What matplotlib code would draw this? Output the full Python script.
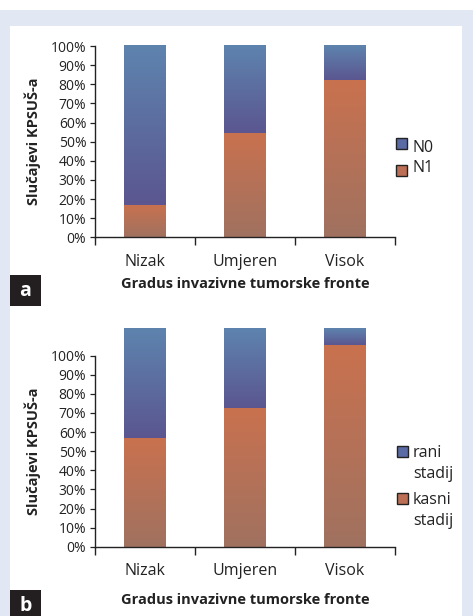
import numpy as np
import matplotlib
matplotlib.use("Agg")
import matplotlib.pyplot as plt
from matplotlib.patches import Rectangle
from matplotlib.colors import LinearSegmentedColormap

plt.rcParams['font.family'] = ['Open Sans', 'DejaVu Sans']

# --- data ---
categories = ['Nizak', 'Umjeren', 'Visok']
yticks = [0, 10, 20, 30, 40, 50, 60, 70, 80, 90, 100]
ytick_labels = [f'{v}%' for v in yticks]

# panel a (lymph node status)
n1 = [17, 54.5, 82]
n0 = [83.5, 45.5, 18]
labels_a = ['N0', 'N1']

# panel b (stage)
kasni = [57, 72.5, 105.5]
rani = [57.5, 41.5, 8.5]
labels_b = ['rani\nstadij', 'kasni\nstadij']

xlabel = 'Gradus invazivne tumorske fronte'
ylabel = 'Slučajevi KPSUŠ-a'

blue_grad = LinearSegmentedColormap.from_list('b', ['#5b5690', '#5e84ae'])
orange_grad = LinearSegmentedColormap.from_list('o', ['#a07260', '#c9714f'])
blue_flat = '#5a6aa4'
orange_flat = '#bd6f55'
ink = '#222222'

W, H = 473, 616


def px(x, y):
    # pixel position (from top-left) -> figure fraction
    return x / W, (H - y) / H


def gradient_bars(ax, x, heights, bottoms, cmap):
    bars = ax.bar(x, heights, bottom=bottoms, width=0.41, color='none',
                  linewidth=0, clip_on=False)
    grad = np.linspace(0, 1, 256).reshape(-1, 1)
    for b in bars:
        x0, y0 = b.get_x(), b.get_y()
        w, h = b.get_width(), b.get_height()
        im = ax.imshow(grad, cmap=cmap, origin='lower', aspect='auto',
                       extent=[x0, x0 + w, y0, y0 + h], clip_on=False,
                       interpolation='bilinear')
        im.set_clip_path(b)
    return bars


def draw_panel(ax, bottom_vals, top_vals, xlabelpad):
    x = np.arange(len(categories))
    gradient_bars(ax, x, bottom_vals, 0, orange_grad)
    gradient_bars(ax, x, top_vals, bottom_vals, blue_grad)
    ax.set_xlim(-0.5, 2.5)
    ax.set_ylim(0, 100)
    for s in ['top', 'right']:
        ax.spines[s].set_visible(False)
    for s in ['left', 'bottom']:
        ax.spines[s].set_color(ink)
        ax.spines[s].set_linewidth(1.0)
    ax.set_yticks(yticks)
    ax.set_yticklabels(ytick_labels, fontsize=10, color=ink)
    ax.tick_params(axis='y', length=3.5, width=0.9, pad=2.5, color=ink)
    ax.set_xticks([-0.5, 0.5, 1.5, 2.5])
    ax.set_xticklabels([])
    ax.tick_params(axis='x', which='major', length=6, width=1, color=ink)
    ax.set_xticks(x, minor=True)
    ax.set_xticklabels(categories, minor=True, fontsize=11.5, color=ink)
    ax.tick_params(axis='x', which='minor', length=0, pad=12)
    ax.set_xlabel(xlabel, fontsize=10.5, fontweight='bold', color=ink,
                  labelpad=xlabelpad)
    ax.set_ylabel(ylabel, fontsize=10.5, fontweight='bold', color=ink,
                  labelpad=7)


def draw_legend(fig, labels, marker_x, marker_tops, baselines):
    colors = [blue_flat, orange_flat]
    for lab, col, mtop, bases in zip(labels, colors, marker_tops, baselines):
        x0, y0 = px(marker_x, mtop + 11)
        fig.add_artist(Rectangle((x0, y0), 11 / W, 11 / H,
                                 transform=fig.transFigure, facecolor=col,
                                 edgecolor=ink, linewidth=1))
        for line, base in zip(lab.split('\n'), bases):
            tx, ty = px(marker_x + 16, base)
            fig.text(tx, ty, line, fontsize=11.5, color=ink, va='baseline')


fig = plt.figure(figsize=(4.73, 6.16), dpi=100)
fig.patch.set_facecolor('white')

# backgrounds
fig.add_artist(Rectangle((0, 0), 1, 606 / H, transform=fig.transFigure,
                         facecolor='#e1e8f4', edgecolor='none', zorder=-3))
fig.add_artist(Rectangle((10 / W, 0), 452 / W, 590 / H,
                         transform=fig.transFigure, facecolor='white',
                         edgecolor='none', zorder=-2))

ax_a = fig.add_axes([94.7 / W, (H - 237.3) / H, 300.3 / W, 191.3 / H])
ax_b = fig.add_axes([94.7 / W, (H - 546.7) / H, 300.3 / W, 191.0 / H])
for ax in (ax_a, ax_b):
    ax.patch.set_alpha(0)

draw_panel(ax_a, n1, n0, 5)
draw_panel(ax_b, kasni, rani, 10)

draw_legend(fig, labels_a, 396, [138, 165], [[151.5], [172]])
draw_legend(fig, labels_b, 397, [446, 493], [[457, 478], [504, 525]])

# panel letters
for letter, ytop, h in [('a', 275, 31), ('b', 590, 26)]:
    x0, y0 = px(10, ytop + h)
    fig.add_artist(Rectangle((x0, y0), 31 / W, h / H,
                             transform=fig.transFigure,
                             facecolor='#231f20', edgecolor='none'))
    tx, ty = px(25.5, ytop + 16)
    fig.text(tx, ty, letter, color='white', fontsize=14, fontweight='bold',
             ha='center', va='center')

fig.savefig('out.png', dpi=100)
